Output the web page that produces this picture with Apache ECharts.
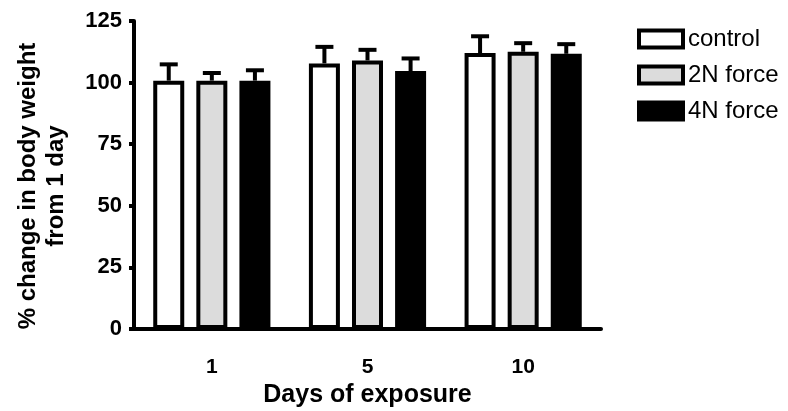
<!DOCTYPE html>
<html>
<head>
<meta charset="utf-8">
<script src="https://cdn.jsdelivr.net/npm/echarts@6/dist/echarts.min.js"></script>
<style>
  html, body { margin: 0; padding: 0; background: #fff; }
  #chart { width: 788px; height: 411px; }
</style>
</head>
<body>
<div id="chart"></div>
<script>
// days of exposure (x categories)
const days = ['1', '5', '10'];
const seriesNames = ['control', '2N force', '4N force'];
// mean % change in body weight
const controlMean = [100.8, 107.8, 112.0];
const twoNMean = [100.8, 109.0, 112.5];
const fourNMean = [100.8, 104.7, 111.7];
// upper error (SEM)
const controlErr = [6.6, 6.7, 6.8];
const twoNErr = [3.1, 4.3, 3.5];
const fourNErr = [4.2, 5.1, 3.9];
const yTicks = [0, 25, 50, 75, 100, 125];

const fills = ['#ffffff', '#dcdcdc', '#000000'];
const BAR_W = 31;
const BAR_GAP = 0.39;
const FONT = '"Liberation Sans", Arial, sans-serif';

const chart = echarts.init(document.getElementById('chart'));

const means = [controlMean, twoNMean, fourNMean];
const errs = [controlErr, twoNErr, fourNErr];

const barSeries = means.map((m, i) => ({
  name: seriesNames[i],
  type: 'bar',
  data: m,
  barWidth: BAR_W,
  barGap: (BAR_GAP * 100) + '%',
  itemStyle: { color: fills[i], borderColor: '#000', borderWidth: 4 },
  z: 2
}));

// error bars: stem up from bar top plus a cap
const errSeries = means.map((m, i) => ({
  name: seriesNames[i] + ' err',
  type: 'custom',
  data: m.map((v, k) => [k, v, v + errs[i][k]]),
  z: 1,
  renderItem(params, api) {
    const base = api.coord([api.value(0), api.value(1)]);
    const top = api.coord([api.value(0), api.value(2)]);
    const off = (i - 1) * BAR_W * (1 + BAR_GAP);
    const x = base[0] + off;
    const style = { stroke: '#000', lineWidth: 4 };
    return {
      type: 'group',
      children: [
        { type: 'line', shape: { x1: x, y1: base[1], x2: x, y2: top[1] }, style },
        { type: 'line', shape: { x1: x - 9, y1: top[1], x2: x + 9, y2: top[1] }, style }
      ]
    };
  }
}));

chart.setOption({
  animation: false,
  backgroundColor: '#fff',
  grid: { left: 134, right: 187, top: 21, bottom: 82, outerBoundsMode: 'none', containLabel: false },
  legend: {
    data: seriesNames,
    orient: 'vertical',
    left: 632,
    top: 22,
    icon: 'rect',
    itemWidth: 44,
    itemHeight: 17,
    itemGap: 12,
    itemStyle: { borderColor: '#000', borderWidth: 4 },
    textStyle: { fontFamily: FONT, fontSize: 24, color: '#000', padding: [0, 0, 0, 0] }
  },
  xAxis: {
    type: 'category',
    data: days,
    axisLine: { lineStyle: { color: '#000', width: 4 } },
    axisTick: { alignWithLabel: true, length: 8, lineStyle: { color: '#000', width: 4 } },
    axisLabel: { color: '#000', fontFamily: FONT, fontWeight: 'bold', fontSize: 21, margin: 28 },
    name: 'Days of exposure',
    nameLocation: 'middle',
    nameGap: 52,
    nameTextStyle: { color: '#000', fontFamily: FONT, fontWeight: 'bold', fontSize: 25 }
  },
  yAxis: {
    type: 'value',
    min: yTicks[0],
    max: yTicks[yTicks.length - 1],
    interval: 25,
    splitLine: { show: false },
    axisLine: { show: true, lineStyle: { color: '#000', width: 4 } },
    axisTick: { show: true, length: 5, lineStyle: { color: '#000', width: 4 } },
    axisLabel: { color: '#000', fontFamily: FONT, fontWeight: 'bold', fontSize: 22, margin: 12 }
  },
  graphic: [{
    type: 'text',
    x: 42,
    y: 186,
    rotation: Math.PI / 2,
    style: {
      text: '% change in body weight\nfrom 1 day',
      fill: '#000',
      font: 'bold 24px ' + FONT,
      align: 'center',
      verticalAlign: 'middle',
      lineHeight: 28
    }
  }],
  series: barSeries.concat(errSeries)
});
</script>
</body>
</html>
